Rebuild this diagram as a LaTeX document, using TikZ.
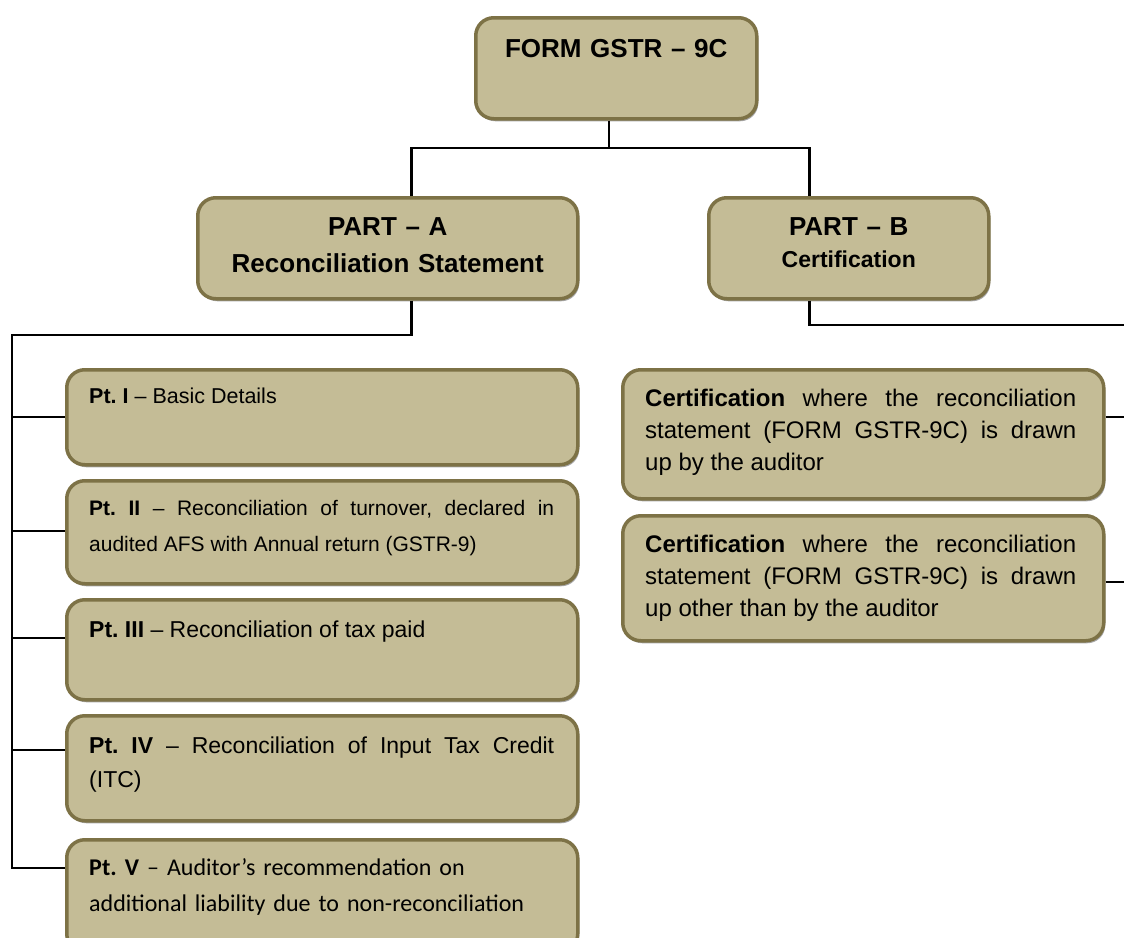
\documentclass[tikz,border=0pt]{standalone}
\usepackage{fontspec}
\setmainfont{Liberation Sans}
\newfontfamily\calibri{Carlito}
\usetikzlibrary{shadows}
\definecolor{boxfill}{HTML}{C4BC96}
\definecolor{boxrim}{HTML}{7D7246}
\hyphenpenalty=10000
\exhyphenpenalty=10000
\frenchspacing
\tikzset{
  tanbox/.style={draw=boxrim,line width=3.5bp,fill=boxfill,rounded corners=18bp,
    anchor=north west,inner sep=0pt,
    drop shadow={shadow xshift=1.5bp,shadow yshift=-2.5bp,fill=black,opacity=.35}},
  link/.style={line width=2.8bp,black},
  headtext/.style={anchor=base,inner sep=0pt,align=center,
    font=\bfseries\fontsize{26bp}{37bp}\selectfont},
  pttext/.style={anchor=base west,inner sep=0pt,text width=465bp,align=justify},
  certtext/.style={anchor=base west,inner sep=0pt,text width=431bp,align=justify,
    font=\fontsize{24bp}{32bp}\selectfont},
}
\begin{document}
\begin{tikzpicture}[x=1bp,y=-1bp]
\useasboundingbox (0,0) rectangle (1124,938);
% boxes
\node[tanbox,minimum width=281bp,minimum height=101bp] (form) at (474,16) {};
\node[tanbox,minimum width=380bp,minimum height=101bp] (parta) at (196,196) {};
\node[tanbox,minimum width=280bp,minimum height=101bp] (partb) at (707,196) {};
\node[tanbox,minimum width=511bp,minimum height=95bp] (p1) at (65,368) {};
\node[tanbox,minimum width=511bp,minimum height=103bp] (p2) at (65,479) {};
\node[tanbox,minimum width=511bp,minimum height=100bp] (p3) at (65,598) {};
\node[tanbox,minimum width=511bp,minimum height=105bp] (p4) at (65,714) {};
\node[tanbox,minimum width=511bp,minimum height=112bp] (p5) at (65,838) {};
\node[tanbox,minimum width=481bp,minimum height=129bp] (c1) at (621,368) {};
\node[tanbox,minimum width=481bp,minimum height=125bp] (c2) at (621,514) {};
% texts
\node[headtext,text width=270bp] (formtext) at ([shift={(0,41)}]form.north) {FORM GSTR – 9C};
\node[headtext,text width=370bp] (paratext) at ([shift={(0,39)}]parta.north) {PART – A\\Reconciliation Statement};
\node[headtext,text width=270bp] (partbtext) at ([shift={(0,39)}]partb.north) {PART – B\\[-5bp]{\fontsize{23bp}{32bp}\selectfont Certification}};
\node[pttext,font=\fontsize{21.5bp}{34bp}\selectfont] (t1) at ([shift={(24,35)}]p1.north west) {\textbf{Pt. I} – Basic Details};
\node[pttext,font=\fontsize{21bp}{36bp}\selectfont] (t2) at ([shift={(24,36)}]p2.north west) {\textbf{Pt. II} – Reconciliation of turnover, declared in\linebreak audited AFS with Annual return (GSTR-9)};
\node[pttext,font=\fontsize{23bp}{34bp}\selectfont] (t3) at ([shift={(24,39)}]p3.north west) {\textbf{Pt. III} – Reconciliation of tax paid};
\node[pttext,font=\fontsize{23bp}{34bp}\selectfont] (t4) at ([shift={(24,39)}]p4.north west) {\textbf{Pt. IV} – Reconciliation of Input Tax Credit\linebreak (ITC)};
\node[pttext,align=left,font=\calibri\fontsize{24bp}{36bp}\selectfont] (t5) at ([shift={(24,37)}]p5.north west) {\textbf{Pt. V} – Auditor’s recommendation on\\additional liability due to non-reconciliation};
\node[certtext] (ct1) at ([shift={(24,38)}]c1.north west) {\textbf{Certification} where the reconciliation statement (FORM GSTR-9C) is drawn\linebreak up by the auditor};
\node[certtext] (ct2) at ([shift={(24,38)}]c2.north west) {\textbf{Certification} where the reconciliation statement (FORM GSTR-9C) is drawn\linebreak up other than by the auditor};
% connectors
\coordinate (hub) at (609,148);
\coordinate (lbus) at (12,335);
\coordinate (rbus) at (1132,325);
\draw[link] (hub |- form.south) -- (hub);
\draw[link] ([xshift=23.5bp]parta.north) |- (hub) -| ([xshift=-39bp]partb.north);
\draw[link] ([xshift=23.5bp]parta.south) |- (lbus) -- (lbus |- 0,868) -- (p5.west |- 0,868);
\foreach \p/\y in {p1/417,p2/531,p3/638,p4/750}
  \draw[link] (lbus |- 0,\y) -- (\p.west |- 0,\y);
\draw[link] ([xshift=-39bp]partb.south) |- (rbus) -- (rbus |- 0,600);
\foreach \c/\y in {c1/417,c2/582}
  \draw[link] (\c.east |- 0,\y) -- (rbus |- 0,\y);
\end{tikzpicture}
\end{document}
